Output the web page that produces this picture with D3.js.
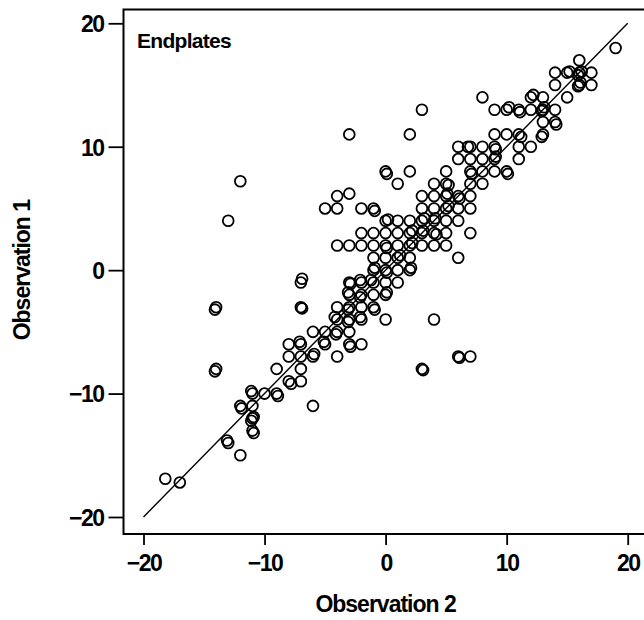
<!DOCTYPE html>
<html>
<head>
<meta charset="utf-8">
<script src="https://cdn.jsdelivr.net/npm/d3@7"></script>
<style>
  body { margin: 0; background: #fff; }
  text { font-family: "Liberation Sans", Arial, sans-serif; fill: #000; }
</style>
</head>
<body>
<div id="chart"></div>
<script>
// Observation 2 (x) and Observation 1 (y), one row per level of Observation 1
const obs2 = [
  19,
  16,
  14, 15, 15.2, 16, 16.2, 15.9, 17,
  14, 16, 16.1, 15.9, 17,
  15, 13, 12, 12.2, 8,
  12, 13, 13.1, 12.9, 14, 11, 11.1, 10, 10.2, 9, 3,
  13, 14, 14.1,
  13, 12.9, 11, 11.2, 10, 9, -3, 2,
  6, 7, 6.8, 8, 9, 9.1, 11, 12,
  6, 7, 8, 9, 9.1, 11,
  5, 7, 7.1, 8, 9, 10, 10.1, 0, 0.1, 2,
  5, 5.2, 7, 8, 4, 1, -12,
  6, 6.1, 7, 5, 5.1, 3, 4, -4, -3,
  7, 6, 5, 4, 3, -5, -4, -2, -1, -0.9, 5.2,
  1, 2, 3, 4, 5, 6, 0, 0.2, -13, 3.2, 4.1,
  7, 5, 4, 3, 2, 1, 0, -1, -2, 3.1, 2.2, 4.2,
  5, 4, 3, 2, 1, 0, 0.1, -1, -2, -3, -4, 2.2,
  6, 2, 1, 0, -1, 1.2,
  2, 2.1, 1, 0, 0.1, -1, -0.9,
  1, 0, -1, -2, -2.1, -3, -2.9, -7, -6.9, -1.2,
  0, 0.1, -1, -2, -2.1, -3, -3.1,
  -1, -0.9, -2, -3, -3.1, -4, -7, -6.9, -14, -14.1,
  0, 4, -2, -2.1, -3, -3.1, -4, -4.2,
  -3, -4, -4.1, -5, -6,
  -2, -3, -2.9, -5, -5.1, -7, -7.1, -8,
  -4, -6, -5.9, -7, -8, 6, 6.1, 7,
  -7, -9, -14, -14.1, 3, 3.1,
  -7, -8, -7.8,
  -9, -8.9, -10, -11, -11.1,
  -6, -11, -12, -11.9,
  -11, -11.1, -10.9,
  -11, -10.9,
  -13, -13.1,
  -12,
  -18.2, -17
];
const obs1 = [
  18,
  17,
  16, 16, 16.1, 16, 16.1, 15.8, 16,
  15, 15, 15.2, 14.9, 15,
  14, 14, 14, 14.2, 14,
  13, 13, 13.2, 12.9, 13, 13, 12.8, 13, 13.2, 13, 13,
  12, 12, 11.8,
  11, 10.8, 11, 10.8, 11, 11, 11, 11,
  10, 10, 10, 10, 10, 9.8, 10, 10,
  9, 9, 9, 9, 9.2, 9,
  8, 8, 7.8, 8, 8, 8, 7.8, 8, 7.8, 8,
  7, 6.9, 7, 7, 7, 7, 7.2,
  6, 5.8, 6, 6, 6.2, 6, 6, 6, 6.2,
  5, 5, 5, 5, 5, 5, 5, 5, 5, 4.8, 5.2,
  4, 4, 4, 4, 4, 4, 4, 4.1, 4, 4.2, 4.2,
  3, 3, 3, 3, 3, 3, 3, 3, 3, 3.2, 3.2, 2.9,
  2, 2, 2, 2, 2, 2, 1.8, 2, 2, 2, 2, 2.2,
  1, 1, 1, 1, 1, 1.2,
  0, 0.2, 0, 0, -0.2, 0, 0.2,
  -1, -1, -1, -1, -0.8, -1, -1.1, -1, -0.7, -0.8,
  -2, -1.8, -2, -2, -2.2, -2, -1.8,
  -3, -3.2, -3, -3, -3.2, -3, -3, -3.1, -3, -3.2,
  -4, -4, -4, -3.8, -4, -4.2, -4, -3.8,
  -5, -5, -5.2, -5, -5,
  -6, -6, -6.2, -6, -5.8, -6, -5.8, -6,
  -7, -7, -6.8, -7, -7, -7, -7.1, -7,
  -8, -8, -8, -8.2, -8, -8.1,
  -9, -9, -9.2,
  -10, -10.2, -10, -10, -9.8,
  -11, -11, -11, -11.2,
  -12, -12.2, -11.9,
  -13, -13.2,
  -14, -13.8,
  -15,
  -16.9, -17.2
];
const tickValues = [-20, -10, 0, 10, 20];
const panelLabel = "Endplates";
const xLabel = "Observation 2";
const yLabel = "Observation 1";

const points = obs2.map((d, i) => ({x: d, y: obs1[i]}));

const width = 644, height = 620;
const svg = d3.select("#chart").append("svg")
    .attr("width", width)
    .attr("height", height);

const x = d3.scaleLinear().domain([-20, 20]).range([143.5, 627.7]);
const y = d3.scaleLinear().domain([-20, 20]).range([517, 23.3]);

const frame = {left: 123.5, top: 9.5, right: 652, bottom: 534};

// frame
svg.append("rect")
    .attr("x", frame.left)
    .attr("y", frame.top)
    .attr("width", frame.right - frame.left)
    .attr("height", frame.bottom - frame.top)
    .attr("fill", "none")
    .attr("stroke", "#000")
    .attr("stroke-width", 2);

const fmt = d => d < 0 ? "\u2212" + Math.abs(d) : String(d);

const xAxis = svg.append("g")
    .attr("transform", `translate(0,${frame.bottom})`)
    .call(d3.axisBottom(x).tickValues(tickValues).tickSize(11).tickPadding(10).tickFormat(fmt));
const yAxis = svg.append("g")
    .attr("transform", `translate(${frame.left},0)`)
    .call(d3.axisLeft(y).tickValues(tickValues).tickSize(15).tickPadding(5).tickFormat(fmt));

[xAxis, yAxis].forEach(g => {
  g.select(".domain").remove();
  g.selectAll(".tick line").attr("stroke", "#000").attr("stroke-width", 1.8);
  g.selectAll(".tick text")
      .style("font-family", "'Liberation Sans', Arial, sans-serif")
      .style("font-size", "23px")
      .style("font-weight", "bold")
      .style("letter-spacing", "-1.5px")
      .attr("fill", "#000");
});
yAxis.selectAll(".tick text").attr("dy", "0.36em");

// identity line
svg.append("line")
    .attr("x1", x(-20)).attr("y1", y(-20))
    .attr("x2", x(20)).attr("y2", y(20))
    .attr("stroke", "#000")
    .attr("stroke-width", 1.4);

svg.append("g").selectAll("circle")
    .data(points)
    .enter().append("circle")
        .attr("cx", d => x(d.x))
        .attr("cy", d => y(d.y))
        .attr("r", 5.4)
        .attr("fill", "none")
        .attr("stroke", "#000")
        .attr("stroke-width", 1.8);

svg.append("text")
    .attr("x", 137)
    .attr("y", 48)
    .style("font-size", "21px")
    .style("letter-spacing", "-0.7px")
    .style("font-weight", "bold")
    .text(panelLabel);

svg.append("text")
    .attr("x", x(0))
    .attr("y", 612)
    .attr("text-anchor", "middle")
    .style("font-size", "23px")
    .style("font-weight", "bold")
    .style("letter-spacing", "-1px")
    .text(xLabel);

svg.append("text")
    .attr("transform", `translate(30,${y(0)}) rotate(-90)`)
    .attr("text-anchor", "middle")
    .style("font-size", "23px")
    .style("font-weight", "bold")
    .style("letter-spacing", "-1px")
    .text(yLabel);
</script>
</body>
</html>
